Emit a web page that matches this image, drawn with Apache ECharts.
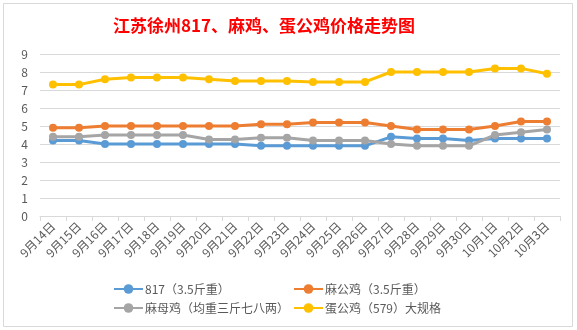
<!DOCTYPE html>
<html><head><meta charset="utf-8">
<script src="https://cdn.jsdelivr.net/npm/echarts@6/dist/echarts.min.js"></script>
<style>html,body{margin:0;padding:0;background:#fff}#c{width:577px;height:330px}</style>
</head><body><div id="c"></div>
<script>
const categories = ['9月14日','9月15日','9月16日','9月17日','9月18日','9月19日','9月20日','9月21日','9月22日','9月23日','9月24日','9月25日','9月26日','9月27日','9月28日','9月29日','9月30日','10月1日','10月2日','10月3日'];
const s817 = [4.2,4.2,4.0,4.0,4.0,4.0,4.0,4.0,3.9,3.9,3.9,3.9,3.9,4.4,4.3,4.3,4.2,4.3,4.3,4.3];
const maGong = [4.9,4.9,5.0,5.0,5.0,5.0,5.0,5.0,5.1,5.1,5.2,5.2,5.2,5.0,4.8,4.8,4.8,5.0,5.25,5.25];
const maMu = [4.4,4.4,4.5,4.5,4.5,4.5,4.25,4.25,4.35,4.35,4.2,4.2,4.2,4.0,3.9,3.9,3.9,4.5,4.65,4.8];
const danGong = [7.3,7.3,7.6,7.7,7.7,7.7,7.6,7.5,7.5,7.5,7.45,7.45,7.45,8.0,8.0,8.0,8.0,8.2,8.2,7.9];
const names = ['817（3.5斤重）','麻公鸡（3.5斤重）','麻母鸡（均重三斤七八两）','蛋公鸡（579）大规格'];
const colors = ['#5B9BD5','#ED7D31','#A5A5A5','#FFC000'];
const datas = [s817, maGong, maMu, danGong];

const chart = echarts.init(document.getElementById('c'));
const font = "'Microsoft YaHei','Noto Sans CJK SC',sans-serif";
chart.setOption({
  animation:false,
  textStyle:{fontFamily:font},
  title:{text:'江苏徐州817、麻鸡、蛋公鸡价格走势图',left:108,top:12,
    textStyle:{color:'#FF0000',fontSize:17,fontWeight:'bold',fontFamily:"'Noto Sans CJK SC',serif"}},
  graphic:[{type:'rect',shape:{x:3.5,y:3.5,width:569,height:323},style:{fill:'none',stroke:'#D9D9D9',lineWidth:1},silent:true}],
  grid:{left:40,right:17,top:54,bottom:114,containLabel:false},
  legend:[
    {data:[names[0],names[2]],orient:'vertical',left:113,top:283,padding:0,itemWidth:29,itemHeight:12,itemGap:7,
      textStyle:{color:'#595959',fontSize:12,fontFamily:font,padding:[0,0,0,-3]}},
    {data:[names[1],names[3]],orient:'vertical',left:293,top:283,padding:0,itemWidth:29,itemHeight:12,itemGap:7,
      textStyle:{color:'#595959',fontSize:12,fontFamily:font,padding:[0,0,0,-3]}}
  ],
  xAxis:{type:'category',data:categories,boundaryGap:true,
    axisLine:{lineStyle:{color:'#D9D9D9'}},
    axisTick:{show:true,length:5,lineStyle:{color:'#D9D9D9'}},
    axisLabel:{rotate:45,color:'#595959',fontSize:12,margin:8,interval:0}},
  yAxis:{type:'value',min:0,max:9,interval:1,
    axisLine:{show:false},axisTick:{show:false},
    axisLabel:{color:'#595959',fontSize:12,margin:12},
    splitLine:{lineStyle:{color:'#D9D9D9'}}},
  series: datas.map((d,i)=>({name:names[i],type:'line',data:d,symbol:'circle',symbolSize:8,
    lineStyle:{width:3,color:colors[i]},itemStyle:{color:colors[i]}}))
});
</script></body></html>
